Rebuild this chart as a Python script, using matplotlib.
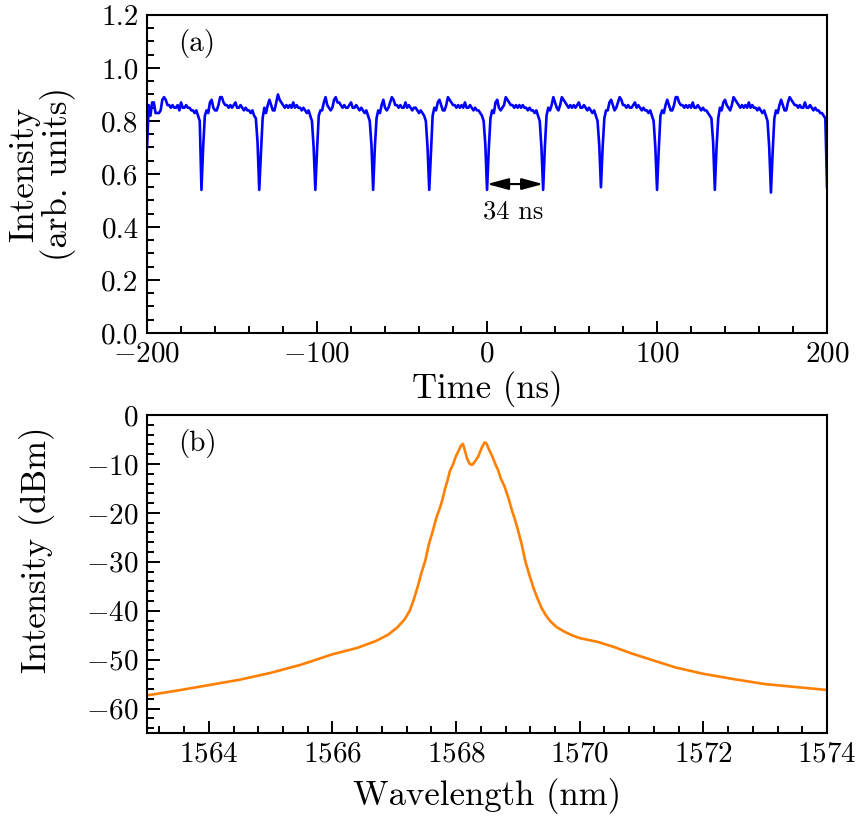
import numpy as np
import matplotlib
matplotlib.use('Agg')
import matplotlib.pyplot as plt
from matplotlib.ticker import MultipleLocator

plt.rcParams['font.family'] = 'serif'
plt.rcParams['font.serif'] = ['cmr10']
plt.rcParams['mathtext.fontset'] = 'cm'
plt.rcParams['axes.formatter.use_mathtext'] = True

# ---- (a) time trace, 1 ns sampling from -200 to 200 ns ----
seg_start = [0.70, 0.86, 0.82, 0.87, 0.87, 0.83, 0.83, 0.83, 0.84, 0.88, 0.89, 0.88, 0.86, 0.86, 0.85, 0.86,
             0.85, 0.85, 0.86, 0.84, 0.87, 0.85, 0.85, 0.86, 0.85, 0.85, 0.84, 0.84, 0.83, 0.84, 0.82, 0.80]
seg_a = [0.54, 0.70, 0.82, 0.84, 0.83, 0.87, 0.88, 0.85, 0.84, 0.84, 0.86, 0.89, 0.89, 0.87, 0.86, 0.86, 0.85,
         0.86, 0.85, 0.86, 0.87, 0.85, 0.85, 0.86, 0.85, 0.84, 0.85, 0.84, 0.84, 0.83, 0.84, 0.82, 0.81, 0.72]
seg_b = [0.54, 0.68, 0.81, 0.85, 0.83, 0.86, 0.88, 0.86, 0.84, 0.84, 0.87, 0.90, 0.88, 0.87, 0.86, 0.85, 0.86,
         0.85, 0.86, 0.85, 0.87, 0.85, 0.86, 0.85, 0.85, 0.84, 0.85, 0.84, 0.83, 0.84, 0.82, 0.80, 0.70]
seg_c = [0.54, 0.69, 0.82, 0.84, 0.84, 0.87, 0.89, 0.86, 0.85, 0.84, 0.85, 0.88, 0.89, 0.87, 0.87, 0.86, 0.85,
         0.86, 0.85, 0.85, 0.86, 0.87, 0.85, 0.85, 0.86, 0.85, 0.84, 0.85, 0.84, 0.83, 0.84, 0.82, 0.80, 0.71]
seg_d = [0.54, 0.70, 0.81, 0.84, 0.83, 0.86, 0.88, 0.85, 0.84, 0.85, 0.87, 0.89, 0.88, 0.86, 0.86, 0.85, 0.86,
         0.85, 0.85, 0.87, 0.85, 0.86, 0.85, 0.84, 0.85, 0.85, 0.84, 0.83, 0.84, 0.83, 0.82, 0.80, 0.70]
seg_e = [0.54, 0.68, 0.82, 0.85, 0.84, 0.87, 0.88, 0.86, 0.84, 0.84, 0.86, 0.89, 0.88, 0.87, 0.86, 0.86, 0.85,
         0.86, 0.85, 0.86, 0.85, 0.87, 0.85, 0.85, 0.86, 0.85, 0.84, 0.85, 0.84, 0.84, 0.83, 0.82, 0.80, 0.71]
seg_f = [0.54, 0.69, 0.81, 0.84, 0.83, 0.87, 0.88, 0.85, 0.84, 0.85, 0.86, 0.89, 0.88, 0.87, 0.86, 0.86, 0.85,
         0.86, 0.85, 0.86, 0.85, 0.86, 0.85, 0.85, 0.84, 0.85, 0.84, 0.84, 0.83, 0.84, 0.82, 0.80, 0.70]
seg_g = [0.54, 0.70, 0.82, 0.85, 0.84, 0.86, 0.89, 0.87, 0.85, 0.84, 0.86, 0.89, 0.88, 0.87, 0.86, 0.85, 0.86,
         0.85, 0.86, 0.85, 0.86, 0.87, 0.85, 0.85, 0.86, 0.85, 0.84, 0.85, 0.84, 0.83, 0.84, 0.82, 0.80, 0.71]
seg_h = [0.55, 0.70, 0.81, 0.84, 0.84, 0.87, 0.88, 0.86, 0.84, 0.85, 0.87, 0.89, 0.88, 0.86, 0.86, 0.85, 0.86,
         0.85, 0.85, 0.86, 0.87, 0.85, 0.86, 0.85, 0.84, 0.85, 0.84, 0.84, 0.83, 0.84, 0.82, 0.80, 0.70]
seg_i = [0.54, 0.69, 0.82, 0.84, 0.83, 0.86, 0.88, 0.86, 0.84, 0.84, 0.86, 0.89, 0.89, 0.87, 0.86, 0.86, 0.85,
         0.86, 0.85, 0.86, 0.85, 0.87, 0.85, 0.85, 0.86, 0.85, 0.84, 0.85, 0.84, 0.84, 0.83, 0.82, 0.81, 0.72]
seg_j = [0.54, 0.70, 0.81, 0.85, 0.84, 0.87, 0.88, 0.86, 0.85, 0.84, 0.86, 0.89, 0.88, 0.87, 0.86, 0.85, 0.86,
         0.85, 0.86, 0.85, 0.87, 0.85, 0.86, 0.85, 0.85, 0.84, 0.85, 0.84, 0.83, 0.84, 0.82, 0.80, 0.70]
seg_k = [0.53, 0.68, 0.81, 0.84, 0.83, 0.86, 0.88, 0.86, 0.84, 0.84, 0.87, 0.89, 0.88, 0.87, 0.86, 0.86, 0.85,
         0.86, 0.85, 0.85, 0.87, 0.85, 0.85, 0.86, 0.85, 0.84, 0.85, 0.84, 0.84, 0.83, 0.83, 0.82, 0.81]
seg_end = [0.55]

intensity = (seg_start + seg_a + seg_b + seg_c + seg_d + seg_e + seg_f + seg_g
             + seg_h + seg_i + seg_j + seg_k + seg_end)
time_ns = np.arange(-200, 201, 1)

# ---- (b) optical spectrum ----
wavelength = [1563.00, 1563.50, 1564.00, 1564.50, 1565.00, 1565.50, 1566.00, 1566.40, 1566.70, 1566.90,
              1567.05, 1567.17, 1567.25, 1567.31, 1567.38, 1567.44, 1567.50, 1567.56, 1567.62, 1567.69,
              1567.74, 1567.78, 1567.82, 1567.86, 1567.90, 1567.95, 1567.99, 1568.04, 1568.08, 1568.11,
              1568.14, 1568.18, 1568.22, 1568.26, 1568.31, 1568.36, 1568.41, 1568.46, 1568.49, 1568.53,
              1568.59, 1568.64, 1568.68, 1568.72, 1568.78, 1568.85, 1568.90, 1568.95, 1569.00, 1569.06,
              1569.12, 1569.18, 1569.25, 1569.31, 1569.38, 1569.45, 1569.52, 1569.62, 1569.74, 1569.87,
              1570.00, 1570.15, 1570.30, 1570.55, 1570.83, 1571.20, 1571.55, 1572.00, 1572.50, 1573.00,
              1573.50, 1574.00]
power_dbm = [-57.3, -56.3, -55.2, -54.1, -52.7, -51.0, -48.9, -47.6, -46.2, -44.9,
             -43.4, -41.7, -40.0, -37.9, -35.0, -32.2, -29.8, -26.4, -23.8, -20.6,
             -18.9, -17.2, -15.1, -13.4, -11.4, -10.1, -8.6, -7.3, -6.2, -5.9,
             -7.2, -9.0, -10.0, -10.2, -9.4, -8.4, -6.8, -5.6, -5.8, -7.0,
             -8.6, -10.2, -11.3, -12.9, -14.5, -17.1, -19.4, -21.3, -23.5, -26.4,
             -29.9, -32.5, -35.3, -37.3, -39.4, -40.9, -42.1, -43.3, -44.2, -45.0,
             -45.6, -46.0, -46.4, -47.4, -48.7, -50.2, -51.6, -52.9, -54.0, -55.0,
             -55.6, -56.2]

fig = plt.figure(figsize=(8.67, 8.24), dpi=100)
ax1 = fig.add_axes([0.1696, 0.5959, 0.7843, 0.3859])
ax2 = fig.add_axes([0.1696, 0.1104, 0.7843, 0.3859])

for ax in (ax1, ax2):
    for sp in ax.spines.values():
        sp.set_linewidth(1.5)
    ax.tick_params(which='both', direction='in', top=False, right=False, width=1.4, labelsize=21)
    ax.tick_params(which='major', length=9, pad=6)
    ax.tick_params(which='minor', length=5)

ax1.plot(time_ns, intensity, color='#0000ff', lw=1.9)
ax1.set_xlim(-200, 200)
ax1.set_ylim(0, 1.2)
ax1.xaxis.set_major_locator(MultipleLocator(100))
ax1.xaxis.set_minor_locator(MultipleLocator(20))
ax1.yaxis.set_major_locator(MultipleLocator(0.2))
ax1.yaxis.set_minor_locator(MultipleLocator(0.05))
ax1.yaxis.set_major_formatter(plt.FormatStrFormatter('%.1f'))
ax1.set_xlabel('Time (ns)', fontsize=25)
ax1.set_ylabel('Intensity\n(arb. units)', fontsize=25, linespacing=1.0)
ax1.xaxis.set_label_coords(0.5, -0.12)
ax1.yaxis.set_label_coords(-0.105, 0.5)
ax1.text(0.046, 0.909, '(a)', transform=ax1.transAxes, fontsize=21, ha='left', va='center')
ax1.annotate('', xy=(0, 0.562), xytext=(33, 0.562),
             arrowprops=dict(arrowstyle='<|-|>,head_length=1.3,head_width=0.35', color='black',
                             lw=1.5, mutation_scale=10, shrinkA=0, shrinkB=0))
ax1.text(15.5, 0.457, '34 ns', fontsize=19, ha='center', va='center')

ax2.plot(wavelength, power_dbm, color='#ff8000', lw=1.9)
ax2.set_xlim(1563, 1574)
ax2.set_ylim(-65, 0)
ax2.xaxis.set_major_locator(MultipleLocator(2))
ax2.xaxis.set_minor_locator(MultipleLocator(0.4))
ax2.yaxis.set_major_locator(MultipleLocator(10))
ax2.yaxis.set_minor_locator(MultipleLocator(2))
ax2.xaxis.get_major_formatter().set_useOffset(False)
ax2.set_xlabel('Wavelength (nm)', fontsize=25)
ax2.set_ylabel('Intensity (dBm)', fontsize=25)
ax2.xaxis.set_label_coords(0.5, -0.14)
ax2.yaxis.set_label_coords(-0.135, 0.575)
ax2.text(0.046, 0.909, '(b)', transform=ax2.transAxes, fontsize=21, ha='left', va='center')

fig.savefig('out.png', dpi=100)
